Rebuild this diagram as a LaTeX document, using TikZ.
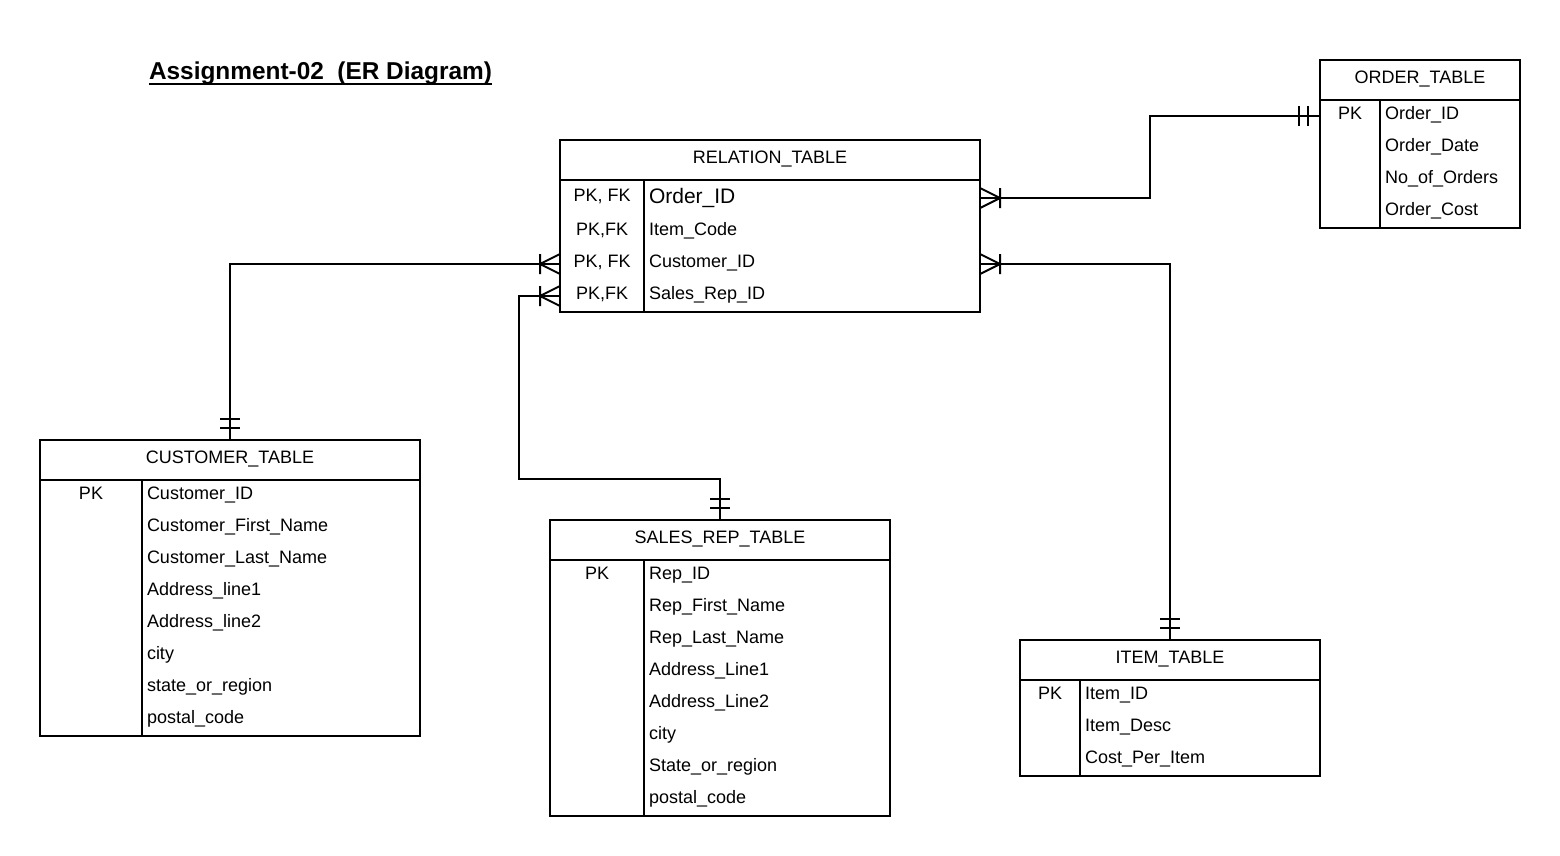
\documentclass[tikz,border=0pt]{standalone}
\usepackage{fontspec}
\setmainfont{Liberation Sans}
\usetikzlibrary{calc}
\tikzset{
  crowfoot/.pic={\draw[line width=2pt,line join=round] (0,-10) -- (20,0) -- (0,10) (20,-10) -- (20,10);},
  mandone/.pic={\draw[line width=2pt] (12,-10) -- (12,10) (21,-10) -- (21,10);}
}
\begin{document}
\begin{tikzpicture}[x=1pt,y=-1pt,line width=2pt,every node/.style={outer sep=0pt},
  tbl/.style={draw,line width=2pt,inner sep=0,outer sep=0,anchor=north west},
  txt/.style={inner sep=0,outer sep=0,font=\fontsize{18}{20}\selectfont},
  hdr/.style={txt,anchor=base},
  key/.style={txt,anchor=base},
  fld/.style={txt,anchor=base west},
  conn/.style={line width=2pt}]
\fill[white] (0,0) rectangle (1560,856);
\useasboundingbox (0,0) rectangle (1560,856);

% title
\node[inner sep=0,anchor=base west,font=\fontsize{24.4}{28}\bfseries] (title) at (149,80) {Assignment-02\ \ (ER Diagram)};
\draw[line width=2pt] ([yshift=-4pt]title.base west) -- ([yshift=-4pt]title.base east);

% RELATION_TABLE
\node[tbl,minimum width=420,minimum height=172] (rel) at (560,140) {};
\draw (560,180) -- (980,180) (644,180) -- (644,312);
\node[hdr] (relH) at (770,163.5) {RELATION\_TABLE};
\node[key] (relK1) at (602,201.5) {PK, FK};
\node[key] (relK2) at (602,235.5) {PK,FK};
\node[key] (relK3) at (602,267.5) {PK, FK};
\node[key] (relK4) at (602,299.5) {PK,FK};
\node[txt,anchor=base west,font=\fontsize{21}{24}\selectfont] (relF1) at (649,203.5) {Order\_ID};
\node[fld] (relF2) at (649,235.5) {Item\_Code};
\node[fld] (relF3) at (649,267.5) {Customer\_ID};
\node[fld] (relF4) at (649,299.5) {Sales\_Rep\_ID};

% ORDER_TABLE
\node[tbl,minimum width=200,minimum height=168] (ord) at (1320,60) {};
\draw (1320,100) -- (1520,100) (1380,100) -- (1380,228);
\node[hdr] (ordH) at (1420,83.5) {ORDER\_TABLE};
\node[key] (ordK1) at (1350,119.5) {PK};
\node[fld] (ordF1) at (1385,119.5) {Order\_ID};
\node[fld] (ordF2) at (1385,151.5) {Order\_Date};
\node[fld] (ordF3) at (1385,183.5) {No\_of\_Orders};
\node[fld] (ordF4) at (1385,215.5) {Order\_Cost};

% CUSTOMER_TABLE
\node[tbl,minimum width=380,minimum height=296] (cust) at (40,440) {};
\draw (40,480) -- (420,480) (142,480) -- (142,736);
\node[hdr] (custH) at (230,463.5) {CUSTOMER\_TABLE};
\node[key] (custK1) at (91,499.5) {PK};
\node[fld] (custF1) at (147,499.5) {Customer\_ID};
\node[fld] (custF2) at (147,531.5) {Customer\_First\_Name};
\node[fld] (custF3) at (147,563.5) {Customer\_Last\_Name};
\node[fld] (custF4) at (147,595.5) {Address\_line1};
\node[fld] (custF5) at (147,627.5) {Address\_line2};
\node[fld] (custF6) at (147,659.5) {city};
\node[fld] (custF7) at (147,691.5) {state\_or\_region};
\node[fld] (custF8) at (147,723.5) {postal\_code};

% SALES_REP_TABLE
\node[tbl,minimum width=340,minimum height=296] (sales) at (550,520) {};
\draw (550,560) -- (890,560) (644,560) -- (644,816);
\node[hdr] (salesH) at (720,543.5) {SALES\_REP\_TABLE};
\node[key] (salesK1) at (597,579.5) {PK};
\node[fld] (salesF1) at (649,579.5) {Rep\_ID};
\node[fld] (salesF2) at (649,611.5) {Rep\_First\_Name};
\node[fld] (salesF3) at (649,643.5) {Rep\_Last\_Name};
\node[fld] (salesF4) at (649,675.5) {Address\_Line1};
\node[fld] (salesF5) at (649,707.5) {Address\_Line2};
\node[fld] (salesF6) at (649,739.5) {city};
\node[fld] (salesF7) at (649,771.5) {State\_or\_region};
\node[fld] (salesF8) at (649,803.5) {postal\_code};

% ITEM_TABLE
\node[tbl,minimum width=300,minimum height=136] (item) at (1020,640) {};
\draw (1020,680) -- (1320,680) (1080,680) -- (1080,776);
\node[hdr] (itemH) at (1170,663.5) {ITEM\_TABLE};
\node[key] (itemK1) at (1050,699.5) {PK};
\node[fld] (itemF1) at (1085,699.5) {Item\_ID};
\node[fld] (itemF2) at (1085,731.5) {Item\_Desc};
\node[fld] (itemF3) at (1085,763.5) {Cost\_Per\_Item};

% connector end points on table borders
\coordinate (relR1) at (980,198);
\coordinate (relR2) at (980,264);
\coordinate (relL1) at (560,264);
\coordinate (relL2) at (560,296);
\coordinate (ordL) at (1320,116);
\coordinate (custT) at (230,440);
\coordinate (salesT) at (720,520);
\coordinate (itemT) at (1170,640);

% connectors
\draw[conn] (relR1) -- ++(170,0) |- (ordL);
\draw[conn] (relL1) -| (custT);
\draw[conn] (relL2) -- ++(-41,0) |- ($(salesT)+(0,-41)$) -- (salesT);
\draw[conn] (relR2) -| (itemT);

% cardinality marks
\pic at (relR1) {crowfoot};
\pic at (relR2) {crowfoot};
\pic[rotate=180] at (relL1) {crowfoot};
\pic[rotate=180] at (relL2) {crowfoot};
\pic[rotate=180] at (ordL) {mandone};
\pic[rotate=90] at (custT) {mandone};
\pic[rotate=90] at (salesT) {mandone};
\pic[rotate=90] at (itemT) {mandone};
\end{tikzpicture}
\end{document}
